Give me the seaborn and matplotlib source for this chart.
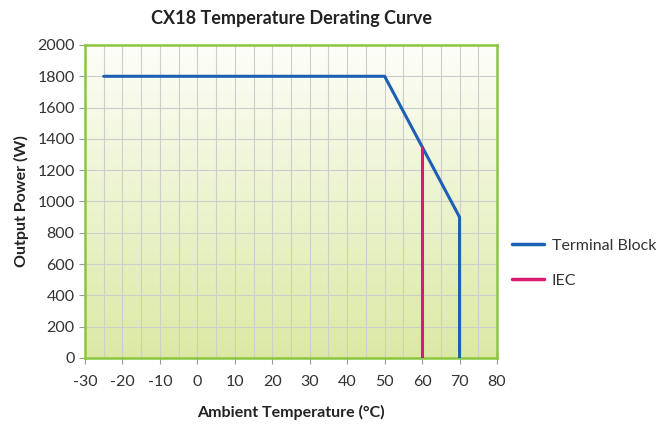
import numpy as np
import pandas as pd
import matplotlib
matplotlib.use('Agg')
import matplotlib.pyplot as plt
import seaborn as sns
from matplotlib.colors import LinearSegmentedColormap
from matplotlib.lines import Line2D

# Data
terminal_temp = [-25, 50, 70, 70]
terminal_power = [1800, 1800, 900, 0]
iec_temp = [60, 60]
iec_power = [0, 1350]

x_ticks = list(range(-30, 81, 10))
y_ticks = list(range(0, 2001, 200))

df = pd.DataFrame({
    'temp': terminal_temp + iec_temp,
    'power': terminal_power + iec_power,
    'series': ['Terminal Block'] * len(terminal_temp) + ['IEC'] * len(iec_temp),
})

sns.set_style('white')
plt.rcParams['font.family'] = ['Lato', 'DejaVu Sans']
plt.rcParams['axes.unicode_minus'] = False

fig = plt.figure(figsize=(6.72, 4.28), dpi=100)
ax = fig.add_axes([0.1265, 0.1636, 0.6131, 0.7313])

# Gradient background: pale at top, light green at bottom
cmap = LinearSegmentedColormap.from_list('bg', ['#dbe9a5', '#fdfef8'])
grad = np.linspace(0, 1, 256).reshape(-1, 1)
ax.imshow(grad, aspect='auto', cmap=cmap, origin='lower',
          extent=[0, 1, 0, 1], transform=ax.transAxes, zorder=0)

palette = {'Terminal Block': '#1d5fb4', 'IEC': '#d81b6e'}
sns.lineplot(data=df, x='temp', y='power', hue='series', palette=palette,
             estimator=None, sort=False, linewidth=2.2, ax=ax, zorder=3,
             legend=False)

ax.set_xlim(-30, 80)
ax.set_ylim(0, 2000)
ax.set_xticks(x_ticks)
ax.set_yticks(y_ticks)
ax.set_xticks(range(-25, 80, 10), minor=True)
ax.grid(True, which='both', color='#cdcdcd', linewidth=0.8, zorder=1)
ax.set_axisbelow(True)

for s in ax.spines.values():
    s.set_color('#8cc63f')
    s.set_linewidth(1.8)

ax.tick_params(axis='both', which='major', length=4, color='#999999',
               labelsize=11.5, labelcolor='#333333', direction='out')
ax.tick_params(axis='x', which='major', pad=8)
ax.tick_params(axis='x', which='minor', length=0)
ax.tick_params(left=True, bottom=True)

ax.set_xlabel('Ambient Temperature (°C)', fontsize=11.5, fontweight='bold',
              color='#222222', labelpad=12)
ax.set_ylabel('Output Power (W)', fontsize=11.5, fontweight='bold',
              color='#222222', labelpad=6)
ax.set_title('CX18 Temperature Derating Curve', fontsize=13,
             fontweight='bold', color='#222222', pad=15)

# Legend outside on the right
handles = [Line2D([], [], color=palette[k], linewidth=2.5) for k in palette]
fig.legend(handles, list(palette.keys()), loc='center left',
           bbox_to_anchor=(0.74, 0.385), frameon=False, fontsize=11.5,
           handlelength=2.0, handletextpad=0.5, labelspacing=1.3,
           labelcolor='#333333')

fig.savefig('out.png', dpi=100)
